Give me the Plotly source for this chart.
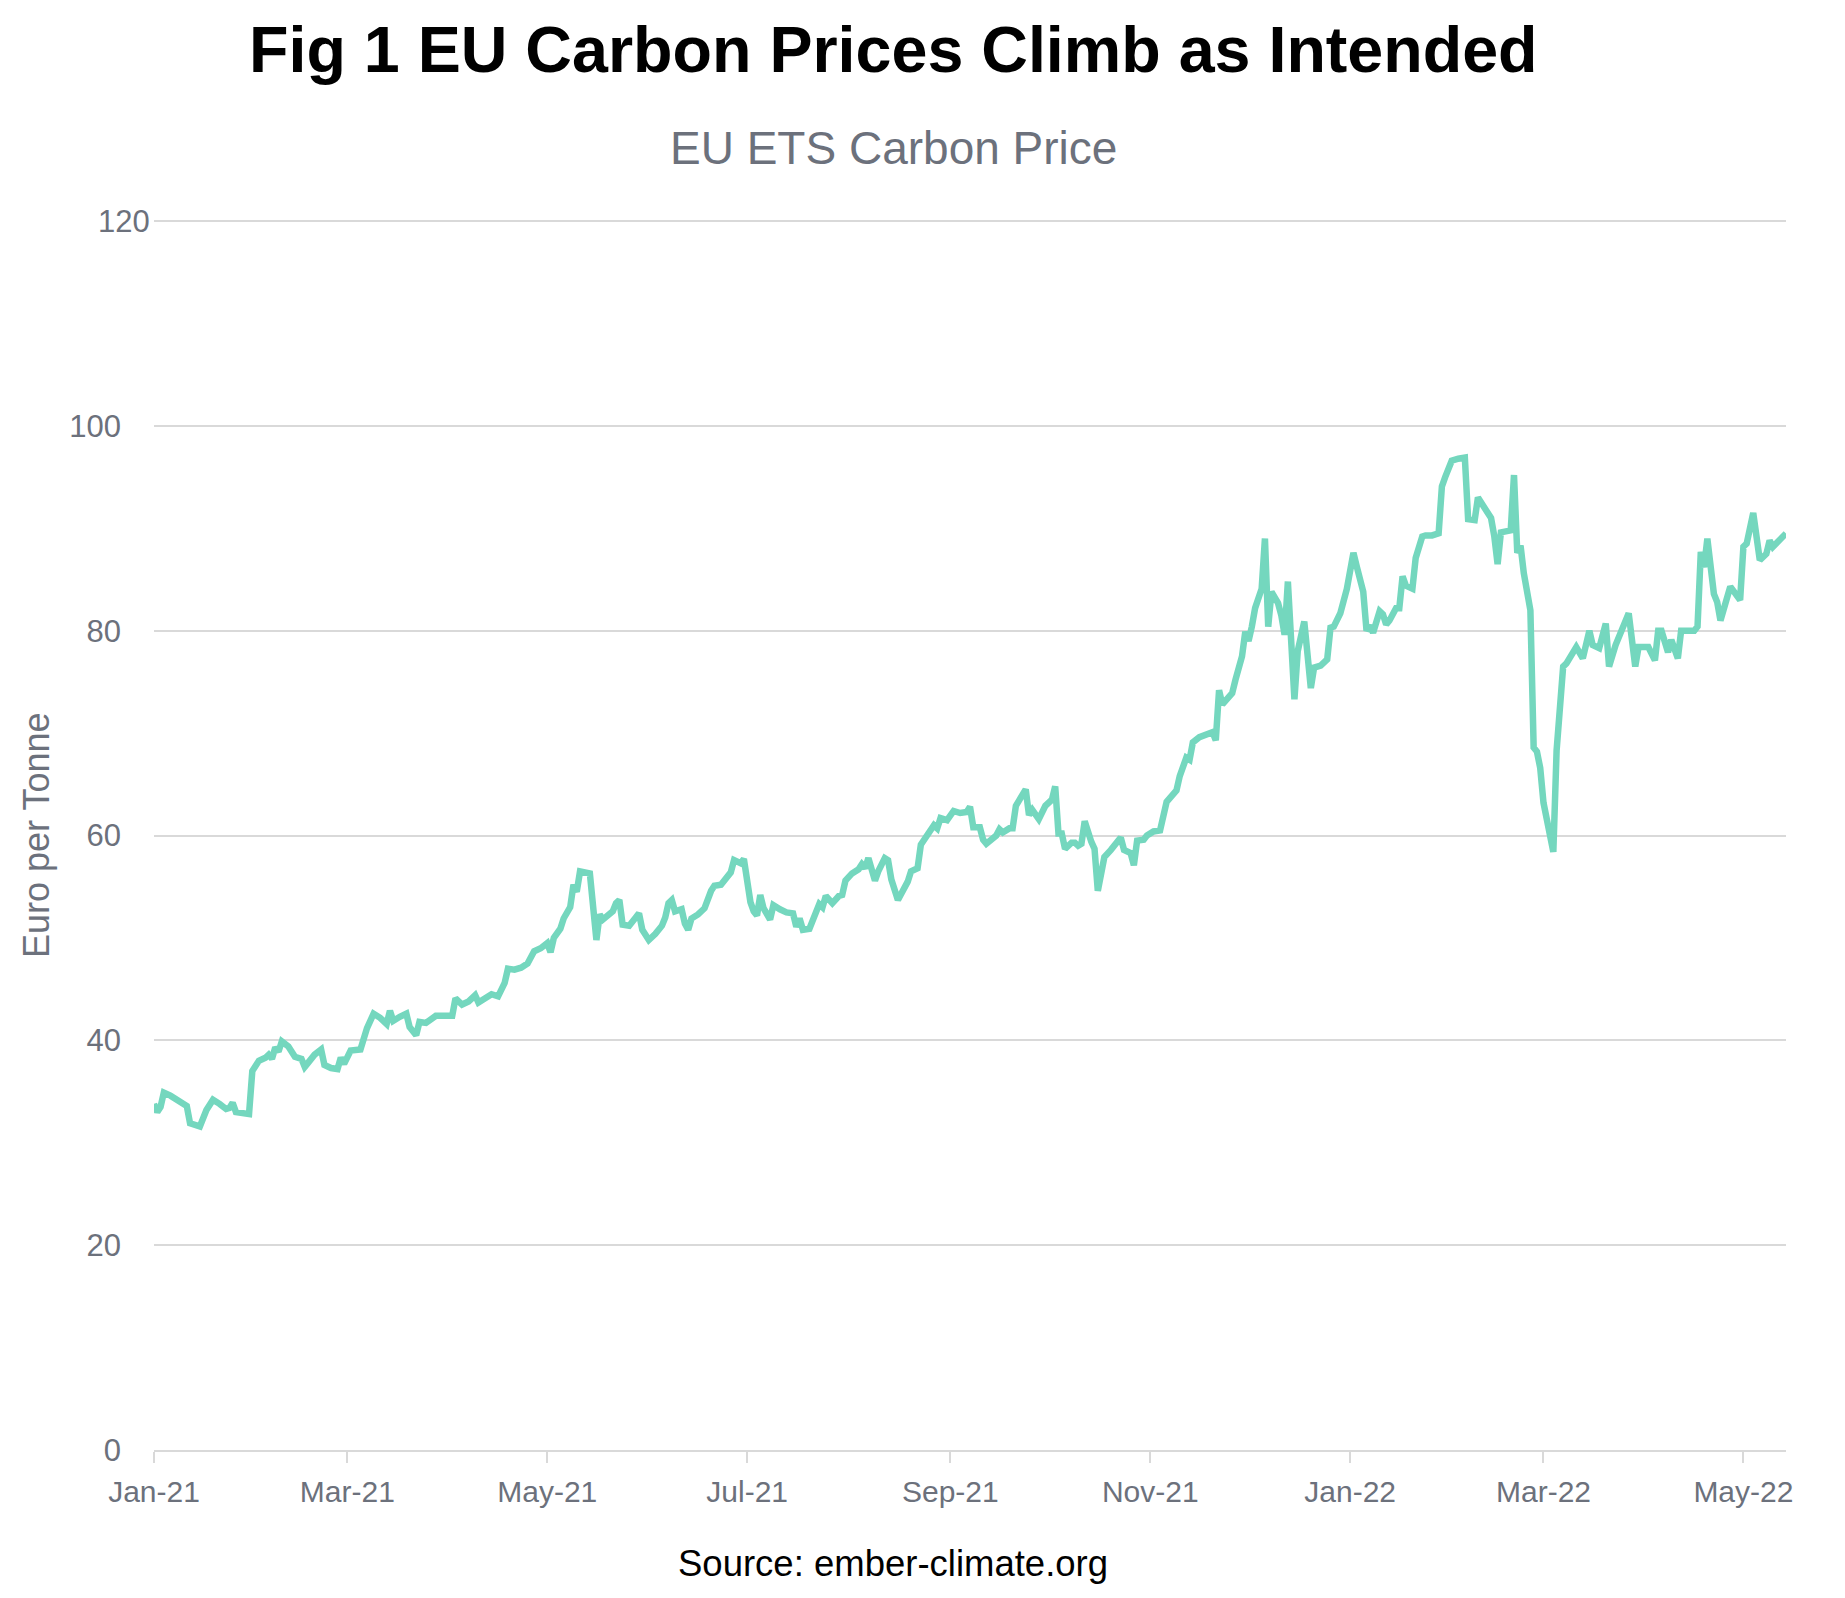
import plotly.graph_objects as go

# ---- Data ----
dates = [
    "2021-01-01","2021-01-02","2021-01-03","2021-01-04","2021-01-06","2021-01-08","2021-01-10","2021-01-11",
    "2021-01-12","2021-01-14","2021-01-15","2021-01-17","2021-01-19","2021-01-21","2021-01-23","2021-01-24",
    "2021-01-25","2021-01-26","2021-01-29","2021-01-30","2021-01-31","2021-02-02","2021-02-04","2021-02-05",
    "2021-02-06","2021-02-07","2021-02-08","2021-02-09","2021-02-11","2021-02-13","2021-02-15","2021-02-16",
    "2021-02-17","2021-02-19","2021-02-21","2021-02-22","2021-02-24","2021-02-26","2021-02-27","2021-02-28",
    "2021-03-02","2021-03-05","2021-03-07","2021-03-09","2021-03-11","2021-03-13","2021-03-14","2021-03-15",
    "2021-03-17","2021-03-19","2021-03-20","2021-03-22","2021-03-23","2021-03-25","2021-03-28","2021-04-01",
    "2021-04-02","2021-04-03","2021-04-05","2021-04-07","2021-04-09","2021-04-10","2021-04-12","2021-04-14",
    "2021-04-16","2021-04-18","2021-04-19","2021-04-21","2021-04-23","2021-04-25","2021-04-27","2021-04-29",
    "2021-05-01","2021-05-02","2021-05-03","2021-05-05","2021-05-06","2021-05-08","2021-05-09","2021-05-10",
    "2021-05-11","2021-05-14","2021-05-16","2021-05-17","2021-05-18","2021-05-21","2021-05-22","2021-05-23",
    "2021-05-24","2021-05-26","2021-05-28","2021-05-29","2021-05-30","2021-06-01","2021-06-03","2021-06-05",
    "2021-06-06","2021-06-07","2021-06-08","2021-06-09","2021-06-11","2021-06-12","2021-06-13","2021-06-14",
    "2021-06-16","2021-06-18","2021-06-20","2021-06-21","2021-06-23","2021-06-25","2021-06-26","2021-06-27",
    "2021-06-29","2021-06-30","2021-07-02","2021-07-03","2021-07-04","2021-07-05","2021-07-06","2021-07-08",
    "2021-07-09","2021-07-11","2021-07-13","2021-07-15","2021-07-16","2021-07-17","2021-07-18","2021-07-20",
    "2021-07-22","2021-07-23","2021-07-24","2021-07-25","2021-07-27","2021-07-29","2021-07-30","2021-07-31",
    "2021-08-02","2021-08-04","2021-08-05","2021-08-06","2021-08-07","2021-08-09","2021-08-10","2021-08-12",
    "2021-08-13","2021-08-14","2021-08-16","2021-08-18","2021-08-19","2021-08-20","2021-08-22","2021-08-23",
    "2021-08-25","2021-08-27","2021-08-28","2021-08-29","2021-08-31","2021-09-02","2021-09-04","2021-09-06",
    "2021-09-07","2021-09-08","2021-09-10","2021-09-11","2021-09-12","2021-09-15","2021-09-16","2021-09-17",
    "2021-09-19","2021-09-20","2021-09-21","2021-09-23","2021-09-24","2021-09-25","2021-09-26","2021-09-28",
    "2021-09-30","2021-10-02","2021-10-03","2021-10-04","2021-10-05","2021-10-06","2021-10-08","2021-10-09",
    "2021-10-10","2021-10-11","2021-10-12","2021-10-14","2021-10-15","2021-10-16","2021-10-18","2021-10-20",
    "2021-10-22","2021-10-23","2021-10-24","2021-10-26","2021-10-27","2021-10-28","2021-10-30","2021-10-31",
    "2021-11-02","2021-11-04","2021-11-06","2021-11-07","2021-11-09","2021-11-10","2021-11-12","2021-11-13",
    "2021-11-14","2021-11-16","2021-11-18","2021-11-20","2021-11-21","2021-11-22","2021-11-23","2021-11-26",
    "2021-11-27","2021-11-29","2021-11-30","2021-12-01","2021-12-02","2021-12-03","2021-12-05","2021-12-06",
    "2021-12-07","2021-12-08","2021-12-10","2021-12-11","2021-12-12","2021-12-13","2021-12-15","2021-12-16",
    "2021-12-18","2021-12-20","2021-12-21","2021-12-23","2021-12-25","2021-12-26","2021-12-27","2021-12-29",
    "2021-12-31","2022-01-01","2022-01-02","2022-01-03","2022-01-05","2022-01-06","2022-01-07","2022-01-08",
    "2022-01-10","2022-01-11","2022-01-12","2022-01-13","2022-01-15","2022-01-16","2022-01-17","2022-01-18",
    "2022-01-20","2022-01-21","2022-01-23","2022-01-24","2022-01-26","2022-01-28","2022-01-29","2022-01-30",
    "2022-02-01","2022-02-03","2022-02-05","2022-02-06","2022-02-08","2022-02-09","2022-02-11","2022-02-13",
    "2022-02-14","2022-02-15","2022-02-16","2022-02-18","2022-02-19","2022-02-20","2022-02-21","2022-02-22",
    "2022-02-23","2022-02-25","2022-02-26","2022-02-27","2022-02-28","2022-03-01","2022-03-04","2022-03-05",
    "2022-03-07","2022-03-08","2022-03-11","2022-03-13","2022-03-15","2022-03-16","2022-03-18","2022-03-20",
    "2022-03-21","2022-03-23","2022-03-27","2022-03-29","2022-03-30","2022-04-02","2022-04-04","2022-04-05",
    "2022-04-06","2022-04-08","2022-04-09","2022-04-11","2022-04-12","2022-04-16","2022-04-17","2022-04-18",
    "2022-04-19","2022-04-20","2022-04-22","2022-04-23","2022-04-24","2022-04-27","2022-04-30","2022-05-01",
    "2022-05-02","2022-05-04","2022-05-06","2022-05-08","2022-05-09","2022-05-10","2022-05-14",
]

prices = [
    33.8, 33.0, 33.5, 34.9, 34.6, 34.2, 33.8, 33.6,
    31.9, 31.7, 31.6, 33.2, 34.2, 33.8, 33.3, 33.4,
    33.9, 33.0, 32.8, 32.8, 37.0, 38.0, 38.3, 38.6,
    38.2, 39.3, 38.9, 39.9, 39.4, 38.4, 38.2, 37.4,
    37.8, 38.6, 39.1, 37.6, 37.3, 37.2, 38.3, 37.7,
    39.0, 39.1, 41.2, 42.6, 42.2, 41.6, 42.9, 41.9,
    42.3, 42.6, 41.3, 40.5, 41.8, 41.7, 42.4, 42.4,
    42.4, 44.1, 43.5, 43.8, 44.4, 43.7, 44.2, 44.5,
    44.3, 45.6, 47.0, 46.9, 47.1, 47.5, 48.7, 49.0,
    49.5, 48.6, 50.0, 50.9, 51.9, 53.0, 55.2, 54.5,
    56.5, 56.3, 49.8, 52.3, 51.8, 52.6, 53.4, 53.7,
    51.3, 51.2, 52.0, 52.4, 50.8, 49.8, 50.4, 51.2,
    52.0, 53.4, 53.7, 52.6, 52.8, 51.4, 50.8, 51.9,
    52.3, 52.9, 54.6, 55.1, 55.2, 55.9, 56.4, 57.6,
    57.3, 57.7, 53.5, 52.6, 52.2, 54.2, 52.9, 51.8,
    53.2, 52.8, 52.5, 52.4, 51.1, 51.9, 50.8, 50.9,
    52.3, 53.3, 53.0, 54.1, 53.4, 54.1, 54.2, 55.6,
    56.3, 56.7, 57.2, 56.8, 57.8, 55.6, 56.5, 57.8,
    57.6, 55.7, 53.7, 54.9, 55.5, 56.5, 56.8, 59.1,
    60.2, 61.0, 60.7, 61.7, 61.5, 62.4, 62.2, 62.3,
    62.8, 60.8, 60.8, 59.6, 59.2, 60.0, 60.6, 60.3,
    60.7, 60.7, 62.9, 63.8, 64.5, 62.0, 62.5, 61.6,
    62.9, 63.5, 64.8, 60.2, 60.2, 58.7, 59.3, 59.3,
    59.0, 59.2, 61.4, 59.4, 58.7, 54.6, 57.9, 58.6,
    59.3, 59.8, 58.6, 58.3, 57.1, 59.5, 59.6, 60.0,
    60.4, 60.5, 63.3, 63.6, 64.4, 65.8, 67.6, 67.4,
    69.1, 69.6, 69.9, 70.1, 69.3, 74.2, 72.8, 73.9,
    75.2, 77.5, 79.9, 79.0, 80.4, 82.2, 84.1, 89.0,
    80.4, 83.8, 82.7, 81.5, 79.6, 84.8, 73.3, 78.0,
    80.9, 74.4, 76.4, 76.6, 77.2, 80.3, 80.4, 81.7,
    84.1, 85.5, 87.6, 86.3, 83.8, 80.0, 80.5, 79.8,
    81.9, 81.6, 80.6, 81.0, 82.2, 82.2, 85.3, 84.4,
    84.1, 87.1, 89.2, 89.3, 89.3, 89.5, 94.1, 95.0,
    96.6, 96.8, 96.9, 90.9, 90.8, 93.0, 92.0, 91.0,
    89.2, 86.5, 89.6, 89.7, 89.8, 95.2, 87.6, 88.3,
    85.6, 82.0, 68.6, 68.2, 66.6, 63.2, 58.4, 68.3,
    76.5, 76.8, 78.4, 77.3, 80.0, 78.6, 78.3, 80.7,
    76.5, 78.6, 81.7, 76.5, 78.4, 78.4, 77.1, 80.0,
    80.0, 77.9, 79.1, 77.3, 80.0, 80.0, 80.4, 87.7,
    86.2, 89.0, 83.6, 82.8, 81.0, 84.3, 83.0, 88.2,
    88.5, 91.5, 86.9, 87.5, 88.8, 88.2, 89.5,
]

y_ticks = [0, 20, 40, 60, 80, 100, 120]
y_tick_text = ["0", "20", "40", "60", "80", "100", ""]   # top label drawn separately (sits nearer the axis)
y_top_label = "120"
y_max = 120.3

title_text = "<b>Fig 1 EU Carbon Prices Climb as Intended</b>"
subtitle_text = "EU ETS Carbon Price"
source_text = "Source: ember-climate.org"
y_title = "Euro per Tonne"

# ---- Layout geometry (pixels) ----
W, H = 1845, 1598
ML, MR, MT, MB = 154, 59, 218, 148
PW, PH = W - ML - MR, H - MT - MB

def px_x(x):
    return (x - ML) / PW

def px_y(y):
    return (H - MB - y) / PH

FONT = "Liberation Sans, Arial, Helvetica, sans-serif"
GRAY = "#6c717c"
LINE = "#74d7be"
GRID = "#d9d9d9"

fig = go.Figure()
fig.add_trace(go.Scatter(
    x=dates, y=prices, mode="lines",
    line=dict(color=LINE, width=6.5),
    hoverinfo="x+y", showlegend=False,
))

fig.update_layout(
    width=W, height=H,
    margin=dict(l=ML, r=MR, t=MT, b=MB, pad=0),
    paper_bgcolor="white", plot_bgcolor="white",
    font=dict(family=FONT, color=GRAY, size=28),
    showlegend=False,
)

fig.update_xaxes(
    type="date",
    range=[dates[0], dates[-1]],
    tick0="2021-01-01", dtick="M2", tickformat="%b-%y",
    showgrid=False, zeroline=False,
    showline=True, linecolor=GRID, linewidth=2,
    ticks="outside", ticklen=11, tickwidth=2, tickcolor=GRID,
    tickfont=dict(size=30, color=GRAY, family=FONT),
    ticklabelstandoff=3,
)

fig.update_yaxes(
    range=[0, y_max], tickvals=y_ticks, ticktext=y_tick_text,
    showgrid=True, gridcolor=GRID, gridwidth=2,
    zeroline=False, showline=False, ticks="",
    tickfont=dict(size=31, color=GRAY, family=FONT),
    ticklabelstandoff=32,
)

fig.add_annotation(text=y_top_label, x=px_x(152), y=y_ticks[-1], xref="paper", yref="y",
                   xanchor="right", yanchor="middle", showarrow=False,
                   font=dict(size=31, color=GRAY, family=FONT))

fig.add_annotation(text=title_text, x=px_x(893), y=px_y(50), xref="paper", yref="paper",
                   xanchor="center", yanchor="middle", showarrow=False,
                   font=dict(size=64.6, color="#000000", family=FONT))
fig.add_annotation(text=subtitle_text, x=px_x(893), y=px_y(148), xref="paper", yref="paper",
                   xanchor="center", yanchor="middle", showarrow=False,
                   font=dict(size=46, color=GRAY, family=FONT))
fig.add_annotation(text=source_text, x=px_x(893), y=px_y(1563), xref="paper", yref="paper",
                   xanchor="center", yanchor="middle", showarrow=False,
                   font=dict(size=36.5, color="#000000", family=FONT))
fig.add_annotation(text=y_title, x=px_x(36), y=px_y(835), xref="paper", yref="paper",
                   xanchor="center", yanchor="middle", showarrow=False, textangle=-90,
                   font=dict(size=36, color=GRAY, family=FONT))

fig.write_html("out.html", config={"displayModeBar": False},
               post_script="document.body.style.margin='0';")
